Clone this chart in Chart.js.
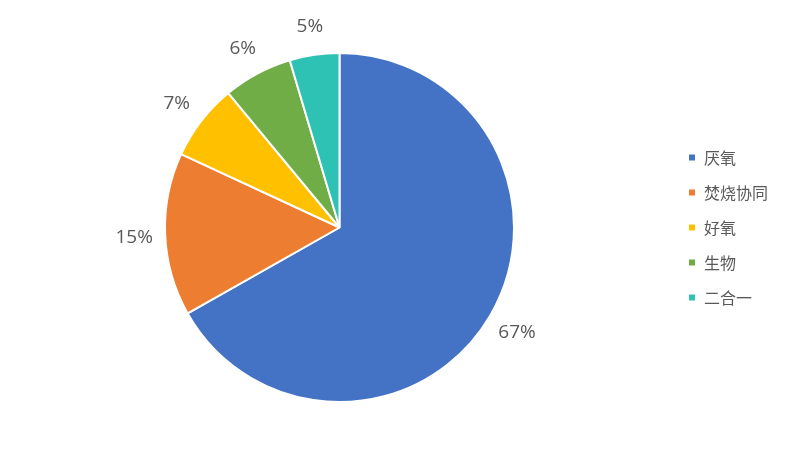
<!DOCTYPE html>
<html>
<head>
<meta charset="utf-8">
<script src="https://cdn.jsdelivr.net/npm/chart.js@4"></script>
<style>
  html, body { margin: 0; padding: 0; background: #fff; }
  #wrap { width: 800px; height: 455px; }
</style>
</head>
<body>
<div id="wrap"><canvas id="pieChart"></canvas></div>
<script>
const categories = ['厌氧', '焚烧协同', '好氧', '生物', '二合一'];
const shares = [66.8, 15.1, 7.1, 6.4, 4.6];
const shareLabels = ['67%', '15%', '7%', '6%', '5%'];
const colors = ['#4472C4', '#ED7D31', '#FFC000', '#70AD47', '#2EC2B4'];

// percent labels outside each slice
const outsideLabels = {
  id: 'outsideLabels',
  afterDatasetsDraw(chart) {
    const { ctx } = chart;
    const meta = chart.getDatasetMeta(0);
    ctx.save();
    ctx.font = '19px "Open Sans", "Noto Sans", sans-serif';
    ctx.fillStyle = '#595959';
    ctx.textAlign = 'center';
    ctx.textBaseline = 'middle';
    meta.data.forEach((arc, i) => {
      const mid = (arc.startAngle + arc.endAngle) / 2;
      const r = arc.outerRadius + 31;
      ctx.fillText(shareLabels[i], arc.x + Math.cos(mid) * r, arc.y + Math.sin(mid) * r + 2);
    });
    ctx.restore();
  },
};

new Chart(document.getElementById('pieChart'), {
  type: 'pie',
  data: {
    labels: categories,
    datasets: [{
      data: shares,
      backgroundColor: colors,
      borderColor: '#ffffff',
      borderWidth: 2,
    }],
  },
  options: {
    responsive: true,
    maintainAspectRatio: false,
    animation: false,
    layout: { padding: { top: 52, bottom: 52, left: 10, right: 22 } },
    plugins: {
      legend: {
        position: 'right',
        labels: {
          boxWidth: 8,
          boxHeight: 8,
          padding: 19,
          color: '#595959',
          font: { size: 16, family: '"Noto Sans CJK SC", sans-serif' },
        },
      },
      tooltip: { enabled: false },
    },
  },
  plugins: [outsideLabels],
});
</script>
</body>
</html>
